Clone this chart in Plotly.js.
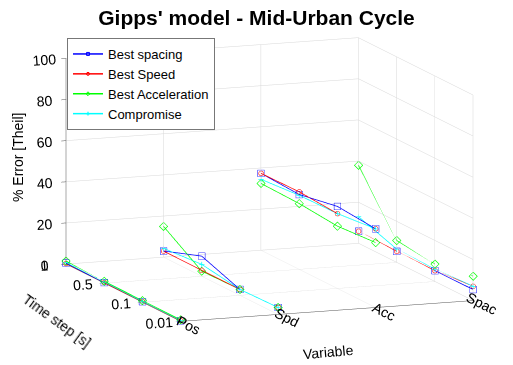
<!DOCTYPE html>
<html><head><meta charset="utf-8">
<script src="https://cdn.plot.ly/plotly-3.0.1.min.js"></script>
<style>html,body{margin:0;padding:0;background:#fff}#chart{width:513px;height:365px}#err{position:absolute;left:0;top:340px;font:10px sans-serif;color:#c00}</style>
</head><body><div id="chart"></div><div id="err"></div>
<script>
const variables = ['Pos','Spd','Acc','Spac'];
const timeSteps = ['1','0.5','0.1','0.01'];
// rows = variable, columns = time step
const bestSpacing = [[0.5,0.3,0.3,0.3],[3,9.8,2.9,3.4],[37.4,36.4,39.9,38.3],[5.9,5.4,5.3,5.4]];
const bestSpeed = [[0.3,0.3,0.3,0.3],[3,2.9,2.9,3.4],[37.4,37.7,36.4,38.3],[5.9,5.4,5.3,7]];
const bestAcceleration = [[1.5,1,0.8,0.8],[15,2.5,2.9,3.4],[32.5,32,30.3,31.6],[38,10.7,8.5,11.9]];
const compromise = [[0.8,0.6,0.5,0.5],[4.3,5.8,2.9,3.4],[34.5,36,36.4,38.3],[13,6.5,6,7]];

const series = [
  {name:'Best spacing', data:bestSpacing, color:'#0000ff', symbol:'square-open'},
  {name:'Best Speed', data:bestSpeed, color:'#ff0000', symbol:'circle-open'},
  {name:'Best Acceleration', data:bestAcceleration, color:'#00ff00', symbol:'diamond-open'},
  {name:'Compromise', data:compromise, color:'#00ffff', symbol:'cross'}
];
const nT = timeSteps.length;
// time step axis position: first step (1 s) at the back
const tPos = timeSteps.map((t, ti) => nT - ti);
const traces = [];
series.forEach((s, si) => {
  variables.forEach((v, vi) => {
    traces.push({
      type:'scatter3d', mode:'lines+markers', name:s.name, legendgroup:s.name,
      showlegend: vi === 0,
      x: timeSteps.map(() => vi + 1),
      y: tPos,
      z: s.data[vi],
      line:{color:s.color, width:1.5},
      marker:{color:s.color, size:3, symbol:s.symbol},
      hoverinfo:'skip'
    });
  });
});
const k = 4;
const zs = 1.9;
const FONT = 'Liberation Sans, Arial, sans-serif';
const axBase = {
  showbackground:false, gridcolor:'#d8d8d8', gridwidth:1, zeroline:false,
  showline:true, linecolor:'#555', linewidth:1, ticks:'outside', tickcolor:'#555', ticklen:5,
  tickfont:{family:FONT, size:13, color:'#000'},
  showspikes:false, title:{text:''}
};
const layout = {
  width:513, height:365, paper_bgcolor:'#fff',
  margin:{l:0,r:0,t:0,b:0},
  title:{text:"<b>Gipps' model - Mid-Urban Cycle</b>", x:0.5, xanchor:'center', y:1-18/365, yanchor:'middle',
    font:{family:FONT, size:21, color:'#000'}},
  showlegend:true,
  legend:{x:67/513, y:1-38/365, xanchor:'left', yanchor:'top', bgcolor:'#fff', bordercolor:'#777', borderwidth:1,
    font:{family:FONT, size:13, color:'#000'}, tracegroupgap:0, itemwidth:30},
  scene:{
    domain:{x:[0.05,1], y:[0.06,0.96]},
    aspectmode:'manual', aspectratio:{x:1*zs, y:1.04*zs, z:0.67*zs},
    camera:{eye:{x:-0.3462*k, y:-0.919*k, z:0.1883*k}, up:{x:0,y:0,z:1}, center:{x:0,y:0,z:0},
      projection:{type:'orthographic'}},
    xaxis:Object.assign({}, axBase, {range:[1,4], tickvals:[1,2,3,4], ticktext:variables}),
    yaxis:Object.assign({}, axBase, {range:[1,4], tickvals:tPos, ticktext:timeSteps}),
    zaxis:Object.assign({}, axBase, {range:[0,100], tickvals:[0,20,40,60,80,100]})
  },
  annotations:[
    {text:'% Error [Theil]', xref:'paper', yref:'paper', x:18/513, y:1-158/365, xanchor:'center', yanchor:'middle',
      textangle:-90, showarrow:false, font:{family:FONT, size:14, color:'#000'}},
    {text:'Time step [s]', xref:'paper', yref:'paper', x:57/513, y:1-321/365, xanchor:'center', yanchor:'middle',
      textangle:36, showarrow:false, font:{family:FONT, size:14, color:'#000'}},
    {text:'Variable', xref:'paper', yref:'paper', x:328/513, y:1-352/365, xanchor:'center', yanchor:'middle',
      textangle:-5, showarrow:false, font:{family:FONT, size:14, color:'#000'}}
  ]
};
window.onerror = function(m){ document.getElementById('err').textContent += ' ' + m; };
Plotly.newPlot('chart', traces, layout, {displayModeBar:false}).catch(e => {
  document.getElementById('err').textContent += ' err:' + e;
});
</script></body></html>
